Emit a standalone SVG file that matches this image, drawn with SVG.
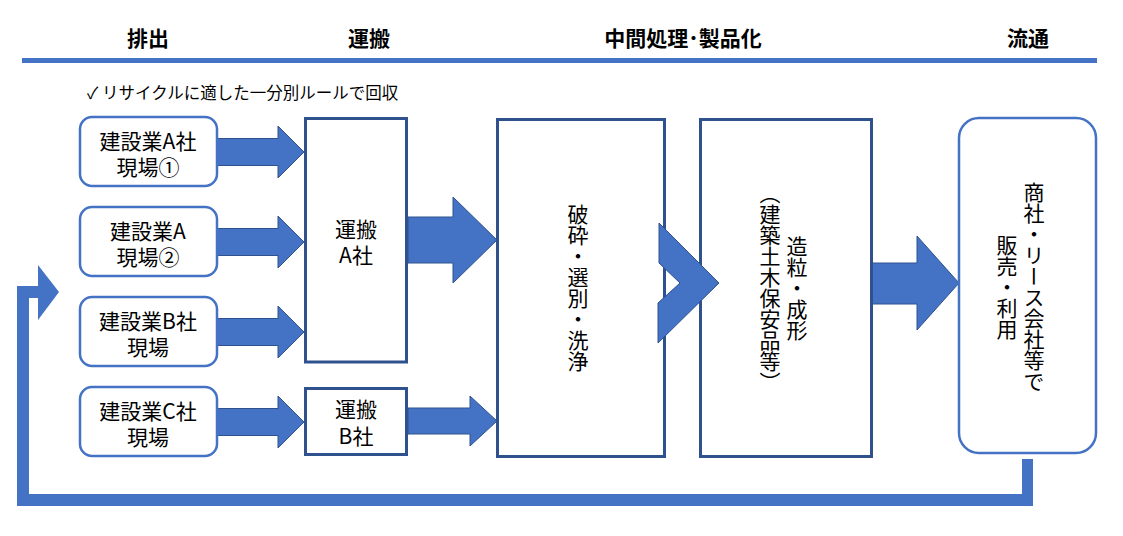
<svg xmlns="http://www.w3.org/2000/svg" width="1123" height="536" viewBox="0 0 1123 536">
<style>
text{font-family:"Noto Sans CJK JP","Noto Sans CJK SC",sans-serif;fill:#000;}
.hd{font-size:21px;font-weight:bold;text-anchor:middle;dominant-baseline:central;}
.t{font-size:21px;text-anchor:middle;dominant-baseline:central;}
.v{font-size:21px;text-anchor:middle;writing-mode:vertical-rl;}
.src{fill:#fff;stroke:#4472C4;stroke-width:2.5;}
.bx{fill:#fff;stroke:#2F528F;stroke-width:3;}
.ar{fill:#4472C4;stroke:#2F528F;stroke-width:1;}
</style>
<rect width="1123" height="536" fill="#fff"/>
<g id="header">
<rect x="22" y="58" width="1075" height="5" fill="#4472C4"/>
<text class="hd" x="148" y="37">排出</text>
<text class="hd" x="369" y="37">運搬</text>
<text class="hd" x="683" y="37">中間処理･製品化</text>
<text class="hd" x="1028" y="37">流通</text>
<text x="87" y="92" style="font-size:16.5px;dominant-baseline:central;">✓ リサイクルに適した一分別ルールで回収</text>
</g>
<g id="connectors">
<polygon class="ar" points="217,138.5 278,138.5 278,126 304,152 278,178 278,165.5 217,165.5"/>
<polygon class="ar" points="217,228.5 278,228.5 278,216 304,242 278,268 278,255.5 217,255.5"/>
<polygon class="ar" points="217,318.5 278,318.5 278,306 304,332 278,358 278,345.5 217,345.5"/>
<polygon class="ar" points="217,408.5 278,408.5 278,396 304,422 278,448 278,435.5 217,435.5"/>
<polygon class="ar" points="408,217 453,217 453,197 497,240 453,283 453,263 408,263"/>
<polygon class="ar" points="408,408 470,408 470,396 497,421 470,446 470,434 408,434"/>
<polygon class="ar" points="872,263 917,263 917,236 959,283 917,330 917,304 872,304"/>
<polygon fill="#4472C4" points="1022,459 1033,459 1033,506 17,506 17,286 38,286 38,265 59,292 38,320 38,298 29,298 29,494 1022,494"/>
</g>
<g id="src1">
<rect class="src" x="80" y="117" width="137" height="69" rx="12"/>
<text class="t" x="148" y="140">建設業A社<tspan x="148" dy="26">現場①</tspan></text>
</g>
<g id="src2">
<rect class="src" x="80" y="207" width="137" height="69" rx="12"/>
<text class="t" x="148" y="230">建設業A<tspan x="148" dy="26">現場②</tspan></text>
</g>
<g id="src3">
<rect class="src" x="80" y="297" width="137" height="69" rx="12"/>
<text class="t" x="148" y="320">建設業B社<tspan x="148" dy="26">現場</tspan></text>
</g>
<g id="src4">
<rect class="src" x="80" y="387" width="137" height="69" rx="12"/>
<text class="t" x="148" y="410">建設業C社<tspan x="148" dy="26">現場</tspan></text>
</g>
<g id="transA">
<rect class="bx" x="305.5" y="118.5" width="101" height="243.5"/>
<text class="t" x="356" y="228">運搬<tspan x="356" dy="26">A社</tspan></text>
</g>
<g id="transB">
<rect class="bx" x="305.5" y="388.5" width="101" height="66"/>
<text class="t" x="356" y="408">運搬<tspan x="356" dy="27">B社</tspan></text>
</g>
<g id="crush">
<rect class="bx" x="497.5" y="119.5" width="167" height="337"/>
<text class="v" x="578" y="288">破砕・選別・洗浄</text>
</g>
<g id="product">
<rect class="bx" x="700.5" y="119.5" width="171" height="337"/>
<text class="v" x="797" y="288">造粒・成形</text>
<text class="v" x="770" y="288">（建築土木保安品等）</text>
</g>
<g id="chevron">
<polygon class="ar" points="659,223 719,283 658,343 658,303 680,283 659,263"/>
</g>
<g id="dist">
<rect class="src" x="959" y="118" width="137" height="335" rx="20"/>
<text class="v" x="1034" y="287">商社・リース会社等で</text>
<text class="v" x="1007" y="287">販売・利用</text>
</g>
</svg>
